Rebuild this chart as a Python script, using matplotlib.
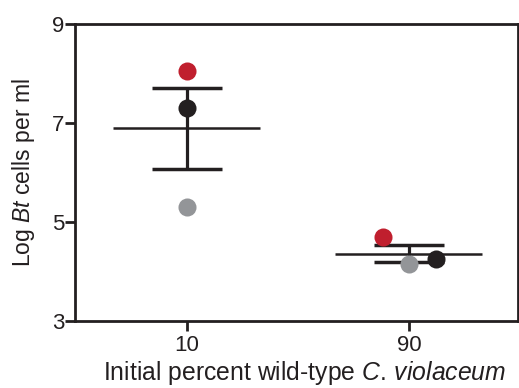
import numpy as np
import matplotlib
matplotlib.use('Agg')
import matplotlib.pyplot as plt

plt.rcParams['font.family'] = ['Liberation Sans', 'DejaVu Sans']
plt.rcParams['mathtext.fontset'] = 'custom'
plt.rcParams['mathtext.rm'] = 'Liberation Sans'
plt.rcParams['mathtext.it'] = 'Liberation Sans:italic'

groups = ['10', '90']
red_vals = [8.06, 4.69]
black_vals = [7.31, 4.25]
gray_vals = [5.31, 4.15]
# horizontal jitter of the points in each group
red_dx = [0.0, -0.12]
black_dx = [0.0, 0.12]
gray_dx = [0.0, 0.0]

c_red = '#c01f2e'
c_black = '#231f20'
c_gray = '#939598'

fig = plt.figure(figsize=(5.19, 3.88), dpi=100)
ax = fig.add_axes([0.1445, 0.1727, 0.8535, 0.7653])

x = np.arange(len(groups))
data = np.array([red_vals, black_vals, gray_vals])
means = data.mean(axis=0)
sem = data.std(axis=0, ddof=1) / np.sqrt(data.shape[0])

# mean line
ax.hlines(means, x - 0.335, x + 0.33, color=c_black, lw=1.8, zorder=2)
# SEM bars
ax.errorbar(x, means, yerr=sem, fmt='none', ecolor=c_black, elinewidth=2.3,
            capsize=25, capthick=2.5, zorder=2)

ax.plot(x + np.array(red_dx), red_vals, 'o', color=c_red, ms=13, mew=0, zorder=3)
ax.plot(x + np.array(black_dx), black_vals, 'o', color=c_black, ms=13, mew=0, zorder=3)
ax.plot(x + np.array(gray_dx), gray_vals, 'o', color=c_gray, ms=13, mew=0, zorder=3)

ax.set_xlim(-0.505, 1.49)
ax.set_ylim(3, 9)
ax.set_yticks([3, 5, 7, 9])
ax.set_xticks(x)
ax.set_xticklabels(groups)
for s in ax.spines.values():
    s.set_linewidth(2.0)
    s.set_color(c_black)
ax.tick_params(axis='both', direction='out', length=7, width=2.0,
               labelsize=16, color=c_black, labelcolor=c_black)
ax.tick_params(axis='y', pad=0.5)
ax.tick_params(axis='x', pad=3)

ax.set_ylabel('Log $\\mathit{Bt}$ cells per ml', fontsize=16.5, color=c_black)
ax.yaxis.set_label_coords(-0.086, 0.5)
ax.set_xlabel('Initial percent wild-type $\\mathit{C.}$$\\,$$\\mathit{violaceum}$',
              fontsize=17.8, color=c_black)
ax.xaxis.set_label_coords(0.519, -0.128)

plt.savefig('out.png', dpi=100)
plt.close()
